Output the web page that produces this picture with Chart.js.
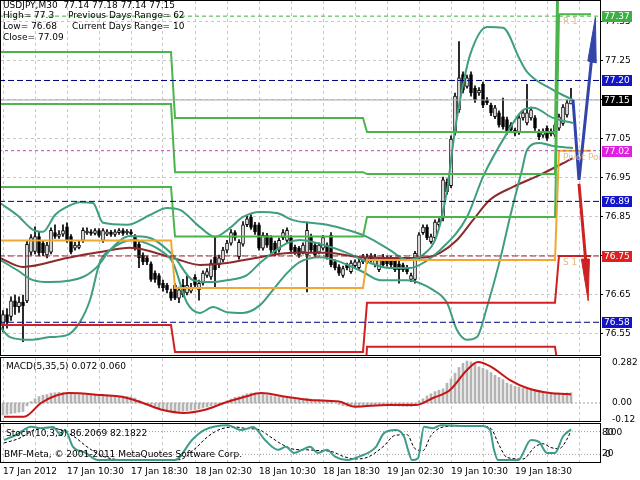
<!DOCTYPE html>
<html><head><meta charset="utf-8">
<script src="https://cdn.jsdelivr.net/npm/chart.js@4.4.0/dist/chart.umd.min.js"></script>
<style>
html,body{margin:0;padding:0;background:#fff;}
#wrap{position:relative;width:640px;height:480px;overflow:hidden;background:#fff}
canvas{position:absolute;left:0}
</style></head><body>
<div id="wrap">
<canvas id="main" width="640" height="356" style="top:0px"></canvas>
<canvas id="macd" width="640" height="67" style="top:356px"></canvas>
<canvas id="stoch" width="640" height="57" style="top:423px"></canvas>
</div>
<script>
// ---------- DATA ----------
const timeLabels = ['17 Jan 2012','17 Jan 10:30','17 Jan 18:30','18 Jan 02:30','18 Jan 10:30','18 Jan 18:30','19 Jan 02:30','19 Jan 10:30','19 Jan 18:30'];
const labelBars = [0,16,32,48,64,80,96,112,128];
const gridBars = [0,8,16,24,32,40,48,56,64,72,80,88,96,104,112,120,128,136,144];
const priceTicks = [76.55,76.65,76.75,76.85,76.95,77.05,77.15,77.25,77.35];

const opens = [
76.575,76.600,76.595,76.635,76.620,76.632,76.635,76.760,76.762,76.800,
76.783,76.753,76.760,76.810,76.800,76.806,76.825,76.800,76.770,76.772,
76.790,76.810,76.812,76.808,76.815,76.790,76.806,76.811,76.805,76.810,
76.815,76.810,76.812,76.800,76.780,76.752,76.745,76.730,76.706,76.700,
76.680,76.675,76.658,76.675,76.642,76.675,76.655,76.660,76.696,76.663,
76.680,76.700,76.696,76.748,76.728,76.740,76.765,76.783,76.810,76.748,
76.780,76.830,76.850,76.830,76.830,76.770,76.803,76.797,76.783,76.765,
76.797,76.790,76.797,76.772,76.770,76.760,76.753,76.800,76.778,76.760,
76.770,76.778,76.803,76.735,76.722,76.700,76.727,76.710,76.725,76.720,
76.735,76.735,76.750,76.727,76.715,76.748,76.745,76.745,76.740,76.730,
76.727,76.720,76.690,76.690,76.745,76.810,76.824,76.787,76.797,76.830,
76.847,76.940,76.930,77.065,77.125,77.215,77.185,77.215,77.180,77.168,
77.190,77.150,77.137,77.107,77.117,77.107,77.100,77.086,77.073,77.068,
77.104,77.091,77.104,77.104,77.068,77.060,77.078,77.063,77.060,77.078,
77.090,77.112,77.140];
const closes = [
76.600,76.580,76.635,76.620,76.632,76.622,76.780,76.797,76.800,76.758,
76.758,76.778,76.816,76.800,76.806,76.815,76.790,76.760,76.778,76.778,
76.816,76.813,76.808,76.815,76.803,76.815,76.812,76.805,76.812,76.815,
76.808,76.813,76.807,76.770,76.745,76.735,76.735,76.690,76.690,76.675,
76.668,76.663,76.642,76.642,76.663,76.650,76.675,76.670,76.675,76.680,
76.706,76.710,76.732,76.715,76.745,76.765,76.783,76.810,76.797,76.785,
76.830,76.845,76.823,76.812,76.770,76.803,76.778,76.765,76.758,76.790,
76.810,76.816,76.765,76.760,76.752,76.778,76.816,76.765,76.753,76.778,
76.797,76.748,76.727,76.720,76.706,76.718,76.720,76.732,76.735,76.735,
76.748,76.748,76.740,76.748,76.740,76.727,76.730,76.727,76.715,76.715,
76.715,76.710,76.700,76.757,76.804,76.824,76.797,76.800,76.837,76.838,
76.945,76.915,77.050,77.160,77.207,77.175,77.207,77.168,77.150,77.175,
77.137,77.143,77.117,77.130,77.086,77.081,77.068,77.073,77.065,77.104,
77.117,77.117,77.125,77.078,77.055,77.070,77.052,77.070,77.086,77.107,
77.132,77.143,77.150];
const highs = [
76.610,76.615,76.645,76.650,76.645,76.650,76.790,76.805,76.825,76.812,
76.790,76.785,76.822,76.830,76.815,76.830,76.835,76.805,76.785,76.790,
76.822,76.822,76.818,76.820,76.820,76.820,76.818,76.816,76.818,76.820,
76.820,76.818,76.818,76.805,76.785,76.758,76.750,76.735,76.712,76.705,
76.688,76.680,76.665,76.680,76.670,76.690,76.700,76.680,76.702,76.688,
76.712,76.718,76.740,76.800,76.752,76.772,76.790,76.818,76.815,76.792,
76.838,76.852,76.856,76.836,76.835,76.810,76.808,76.802,76.788,76.796,
76.818,76.822,76.802,76.778,76.775,76.784,76.837,76.806,76.783,76.784,
76.803,76.784,76.810,76.740,76.728,76.724,76.732,76.738,76.740,76.742,
76.754,76.755,76.756,76.754,76.746,76.754,76.750,76.750,76.745,76.736,
76.732,76.726,76.706,76.762,76.810,76.830,76.830,76.806,76.843,76.846,
76.952,76.948,77.058,77.168,77.300,77.222,77.214,77.222,77.186,77.182,
77.196,77.156,77.142,77.136,77.122,77.155,77.106,77.092,77.078,77.110,
77.124,77.190,77.132,77.110,77.074,77.076,77.084,77.076,77.092,77.114,
77.138,77.150,77.180];
const lows = [
76.555,76.565,76.585,76.600,76.605,76.530,76.630,76.752,76.755,76.750,
76.750,76.745,76.755,76.795,76.795,76.800,76.785,76.755,76.765,76.768,
76.785,76.805,76.803,76.804,76.798,76.785,76.802,76.800,76.800,76.805,
76.803,76.805,76.800,76.765,76.720,76.728,76.728,76.685,76.682,76.668,
76.660,76.655,76.636,76.638,76.630,76.645,76.650,76.655,76.668,76.637,
76.675,76.695,76.690,76.668,76.720,76.735,76.758,76.778,76.790,76.742,
76.775,76.825,76.818,76.805,76.765,76.765,76.772,76.758,76.750,76.760,
76.792,76.785,76.758,76.754,76.746,76.755,76.658,76.760,76.748,76.755,
76.765,76.742,76.722,76.714,76.700,76.695,76.714,76.705,76.720,76.715,
76.730,76.730,76.735,76.722,76.710,76.722,76.724,76.722,76.710,76.680,
76.710,76.704,76.684,76.680,76.740,76.805,76.792,76.782,76.790,76.825,
76.840,76.908,76.925,77.060,77.118,77.168,77.180,77.160,77.144,77.162,
77.130,77.138,77.110,77.102,77.080,77.075,77.062,77.066,77.058,77.062,
77.098,77.086,77.098,77.072,77.048,77.054,77.046,77.058,77.055,77.072,
77.085,77.106,77.140];

// moving average and Bollinger bands: [bar, price]
const maPoints = [[-0.75,76.745],[5,76.722],[16,76.745],[24.25,76.760],[31.75,76.771],[42.5,76.745],[49.25,76.727],[56,76.732],[64.25,76.747],[72.5,76.758],[81,76.758],[89.25,76.747],[101,76.745],[106,76.747],[109.25,76.758],[113.5,76.791],[117.5,76.842],[121.75,76.894],[127.5,76.927],[134.25,76.958],[142.5,77.001]];
const bbUpper = [[-0.75,76.886],[3.5,76.855],[7.5,76.817],[10,76.812],[13,76.855],[16,76.876],[19.25,76.888],[22.5,76.886],[25,76.835],[31,76.830],[36.75,76.855],[41,76.873],[44.25,76.868],[49.25,76.824],[53,76.799],[56.75,76.822],[60,76.850],[64.25,76.863],[68.5,76.860],[72.5,76.842],[76.75,76.835],[81,76.830],[86,76.817],[91,76.799],[96.75,76.765],[101,76.740],[105,76.753],[108.5,76.804],[111,76.919],[113,77.073],[114.75,77.176],[116.75,77.265],[121,77.337],[125,77.335],[129.25,77.253],[131,77.222],[137.5,77.176],[142.5,77.150]];
const bbMiddle = [[-0.75,76.740],[3.5,76.714],[7.5,76.688],[11.75,76.683],[20,76.696],[23.5,76.722],[26.75,76.765],[31.75,76.801],[36.75,76.796],[42.5,76.752],[47.5,76.688],[51.75,76.683],[56,76.688],[61,76.701],[64.25,76.732],[71,76.783],[74.25,76.791],[78.5,76.783],[82.5,76.771],[86,76.758],[91,76.735],[96.75,76.719],[101.75,76.719],[105.5,76.735],[109.25,76.765],[116,76.850],[120,76.953],[126,77.065],[130,77.124],[132.5,77.130],[137.5,77.104],[142.5,77.091]];
const bbLower = [[-0.75,76.568],[1.75,76.542],[6.75,76.535],[11.75,76.542],[16,76.547],[19.25,76.581],[21.75,76.637],[24.25,76.735],[26.75,76.765],[32.5,76.791],[35,76.786],[39.25,76.765],[42.5,76.732],[46,76.630],[49.25,76.604],[52.5,76.619],[56,76.606],[60,76.604],[64.25,76.624],[67.5,76.663],[71,76.706],[74.25,76.735],[79.25,76.747],[84.25,76.735],[90,76.709],[94.25,76.688],[101,76.688],[107.5,76.663],[111,76.630],[113.5,76.560],[116,76.535],[118.5,76.542],[121,76.619],[124.25,76.740],[126.75,76.850],[129.75,76.971],[131,77.022],[134.25,77.040],[137.5,77.032],[142.5,77.027]];

// daily pivot levels (4 days)
const dayStart = [-1, 43, 91, 139];
const dayEnd = [42, 90, 138, 147];
const pivotR3 = [77.273, 77.104, 77.068, 77.75];
const pivotR2 = [77.140, 76.965, 76.960, 77.56];
const pivotR1 = [76.927, 76.800, 76.850, 77.37];
const pivotPP = [76.790, 76.668, 76.740, 77.02];
const pivotS1 = [76.573, 76.504, 76.630, 76.75];
const pivotS2 = [76.400, 76.330, 76.517, 76.45];

// horizontal levels
const levelValues = [77.365, 77.20, 77.15, 77.02, 76.89, 76.75, 76.58];
const levelLabels = ['77.37','77.20','77.15','77.02','76.89','76.75','76.58'];

// forecast arrows
const forecastUp = [[142.5,77.15],[144,76.945],[147.6,77.30]];
const forecastUpHead = [[146.2,77.25],[148.1,77.362],[148.3,77.245],[146.2,77.25]];
const forecastDown = [[144,76.935],[146,76.70]];
const forecastDownHead = [[144.6,76.742],[146.3,76.635],[146.6,76.742],[144.6,76.742]];

// MACD
const macdHist = [
-0.085,-0.08,-0.075,-0.07,-0.065,-0.06,-0.02,0.01,0.03,0.045,
0.055,0.06,0.07,0.072,0.075,0.075,0.07,0.065,0.06,0.06,
0.062,0.063,0.062,0.06,0.058,0.058,0.056,0.055,0.052,0.05,
0.048,0.046,0.044,0.035,0.02,0.005,-0.01,-0.025,-0.035,-0.045,
-0.05,-0.055,-0.06,-0.062,-0.06,-0.058,-0.055,-0.05,-0.048,-0.042,
-0.035,-0.028,-0.02,-0.01,-0.005,0.005,0.015,0.028,0.04,0.045,
0.055,0.065,0.07,0.07,0.062,0.06,0.055,0.05,0.045,0.042,
0.04,0.04,0.035,0.03,0.028,0.028,0.03,0.028,0.025,0.025,
0.022,0.018,0.01,0.0,-0.01,-0.018,-0.022,-0.025,-0.025,-0.024,
-0.022,-0.02,-0.018,-0.016,-0.015,-0.015,-0.016,-0.018,-0.02,-0.022,
-0.024,-0.025,-0.025,-0.01,0.015,0.03,0.05,0.065,0.08,0.09,
0.1,0.14,0.17,0.21,0.25,0.28,0.296,0.29,0.272,0.255,
0.245,0.233,0.215,0.195,0.18,0.165,0.14,0.13,0.118,0.112,
0.105,0.1,0.094,0.09,0.085,0.08,0.074,0.07,0.07,0.07,
0.07,0.071,0.072];
const macdSignal = [[0.25,-0.097],[5.25,-0.097],[9.5,0],[12.5,0.044],[16.5,0.07],[24.75,0.056],[29.75,0.044],[35,0],[40,-0.05],[45.25,-0.07],[50.25,-0.05],[55.25,0],[60.5,0.044],[64.5,0.07],[70.75,0.044],[76.75,0.021],[84,0.01],[88,-0.026],[96.25,-0.014],[103.25,-0.014],[107.5,0.035],[111.75,0.092],[116,0.233],[118.75,0.289],[121.75,0.26],[126.75,0.162],[131,0.106],[136.75,0.07],[141,0.063],[142,0.06]];

// Stochastic
const stochMain = [[0.25,58],[3.25,71],[7,93],[9.5,89],[12.5,92],[14.5,71],[15.5,84],[17.5,40],[20.5,25],[23.75,5],[43,5],[47.25,58],[50.25,84],[56.25,97],[59.5,84],[62.5,92],[65.5,58],[68.75,32],[70.75,40],[72.75,24],[74.75,32],[76.75,40],[78.75,24],[81,32],[83,14],[86,5],[89,14],[93.25,40],[95.25,76],[98.25,84],[100.25,67],[101.25,32],[102.25,5],[103.75,10],[105.25,93],[107.5,89],[109.5,97],[114.5,95],[119.75,95],[121.75,84],[122.75,32],[123.75,5],[128.75,5],[132,58],[134,53],[136,24],[138,24],[140,67],[142,86.2]];
const stochSignal = [[0.25,50],[4,62],[8,85],[12,90],[15,82],[18,65],[21,40],[25,15],[30,6],[44,6],[48,35],[51,65],[54,85],[58,92],[61,88],[64,85],[67,65],[70,45],[73,33],[76,32],[79,30],[82,28],[85,15],[88,8],[91,12],[95,40],[98,70],[101,72],[103,35],[105,30],[107,70],[110,92],[115,95],[120,94],[122,88],[124,45],[126,12],[130,8],[133,40],[135,48],[137,38],[139,35],[141,60],[142,82.2]];

const infoLines = ['USDJPY,M30  77.14 77.18 77.14 77.15','High= 77.3','Low= 76.68','Close= 77.09'];
const infoRight = ['Previous Days Range= 62','Current Days Range= 10'];

// ---------- CONFIG ----------
const FONT = '"DejaVu Sans"';
Chart.defaults.font.family = FONT;
Chart.defaults.font.size = 9;
Chart.defaults.color = '#000';
Chart.defaults.elements.point.radius = 0;
Chart.defaults.animation = false;
Chart.defaults.events = [];
Chart.defaults.plugins.legend.display = false;
Chart.defaults.plugins.tooltip.enabled = false;

const X_MIN = -0.5, X_MAX = 149.25;
const GRID = '#c8c8c8';

function noPad(s){s.paddingTop=0;s.paddingBottom=0;s.paddingLeft=0;s.paddingRight=0;}
function xAxis(showLabels, height){
  return {
    type:'linear', min:X_MIN, max:X_MAX, offset:false,
    grid:{color:GRID, drawTicks:false, offset:false},
    border:{display:false, dash:[3,3]},
    ticks:{display:showLabels, autoSkip:false, maxRotation:0, align:'start', padding:4,
      callback:(v)=>{const k=labelBars.indexOf(v); return k>=0?timeLabels[k]:'';}},
    afterBuildTicks:(s)=>{s.ticks = gridBars.map(v=>({value:v}));},
    afterFit:(s)=>{s.height = height; noPad(s);}
  };
}
const pts = (arr)=>arr.map(p=>({x:p[0],y:p[1]}));
function stepPoints(vals){const o=[];vals.forEach((v,d)=>{o.push({x:dayStart[d],y:v});o.push({x:dayEnd[d],y:v});});return o;}
function lineDs(data,color,width,extra){return Object.assign({type:'line',data:data,borderColor:color,borderWidth:width,fill:false,pointRadius:0,order:1},extra||{});}
function hLevel(v,color,dash,width){return lineDs([{x:-1,y:v},{x:151,y:v}],color,width||1,{borderDash:dash||[],order:0.5});}

function frame(chart){
  const a=chart.chartArea, ctx=chart.ctx;
  ctx.save(); ctx.strokeStyle='#000'; ctx.lineWidth=1;
  ctx.strokeRect(a.left-0.5,a.top-0.5,a.right-a.left+1,a.bottom-a.top+1);
  ctx.restore();
}

// ---------- MAIN ----------
const green='#4cb44c', orange='#f0a830', red='#d42020', teal='#3f9e7e', maCol='#8c2a2a', navy='#000080';
const boxColors = ['#3cb043','#1414c8','#000000','#e020e0','#1414c8','#e02020','#1414c8'];
const pivotTags = [{t:'R 1', v:pivotR1[3]},{t:'Pivot Point', v:pivotPP[3]},{t:'S 1', v:pivotS1[3]}];

const mainPlugin = {
  id:'mainDecor',
  afterDraw(chart){
    const ctx=chart.ctx, a=chart.chartArea, ys=chart.scales.y, xs=chart.scales.x;
    frame(chart);
    ctx.save();
    ctx.beginPath(); ctx.rect(a.left,a.top,a.right-a.left,a.bottom-a.top); ctx.clip();
    ctx.font='9px '+FONT; ctx.textBaseline='middle'; ctx.fillStyle='#e2b98a';
    pivotTags.forEach(p=>ctx.fillText(p.t, xs.getPixelForValue(140), ys.getPixelForValue(p.v)+7));
    ctx.restore();
    ctx.save();
    ctx.font='9px '+FONT; ctx.textBaseline='middle'; ctx.fillStyle='#000';
    const lineY=[6,16,27,37.5];
    infoLines.forEach((t,i)=>ctx.fillText(t,3,lineY[i]));
    ctx.fillText(infoRight[0],68,lineY[1]);
    ctx.fillText(infoRight[1],72,lineY[2]);
    levelValues.forEach((v,i)=>{
      const y=Math.round(ys.getPixelForValue(v));
      ctx.fillStyle=boxColors[i]; ctx.fillRect(602,y-5,30,11);
      ctx.fillStyle='#fff'; ctx.fillText(levelLabels[i],604,y+0.5);
    });
    ctx.restore();
  }
};

new Chart(document.getElementById('main'),{
  type:'line',
  data:{datasets:[
    {type:'bar', data:closes.map((c,i)=>({x:i,y:[lows[i],highs[i]]})), backgroundColor:'#000', barThickness:1, grouped:false, order:20},
    {type:'bar', data:closes.map((c,i)=>({x:i,y:[opens[i],c]})), backgroundColor:closes.map((c,i)=>c>=opens[i]?'#fff':'#000'), borderColor:'#000', borderWidth:1, borderSkipped:false, barThickness:3, grouped:false, order:19},
    hLevel(levelValues[0],'#40b040',[4,3]),
    hLevel(levelValues[1],navy,[6,3]),
    hLevel(levelValues[2],'#a8a8a8',[]),
    hLevel(levelValues[3],'#c040c0',[3,3]),
    hLevel(levelValues[4],navy,[6,3]),
    hLevel(levelValues[5],'#a02030',[6,3]),
    hLevel(levelValues[6],navy,[6,3]),
    lineDs(stepPoints(pivotR3),green,2),
    lineDs(stepPoints(pivotR2),green,2),
    lineDs(stepPoints(pivotR1),green,2),
    lineDs(stepPoints(pivotPP),orange,2),
    lineDs(stepPoints(pivotS1),red,2),
    lineDs(stepPoints(pivotS2),red,2),
    lineDs(pts(bbUpper),teal,2,{cubicInterpolationMode:'monotone'}),
    lineDs(pts(bbMiddle),teal,2,{cubicInterpolationMode:'monotone'}),
    lineDs(pts(bbLower),teal,2,{cubicInterpolationMode:'monotone'}),
    lineDs(pts(maPoints),maCol,2,{cubicInterpolationMode:'monotone'}),
    lineDs(pts(forecastUp),'#3344aa',3,{order:0}),
    lineDs(pts(forecastUpHead),'#3344aa',1,{order:0,fill:'shape',backgroundColor:'#3344aa'}),
    lineDs(pts(forecastDown),'#cc2222',3,{order:0}),
    lineDs(pts(forecastDownHead),'#cc2222',1,{order:0,fill:'shape',backgroundColor:'#cc2222'})
  ]},
  options:{
    responsive:false, maintainAspectRatio:false,
    layout:{padding:{left:1,top:1,right:0,bottom:1}},
    scales:{
      x:xAxis(false,0),
      y:{type:'linear', position:'right', min:76.4961, max:77.4038, beginAtZero:false,
        grid:{color:GRID, tickColor:'#000', tickLength:3},
        border:{display:false, dash:[3,3]},
        ticks:{padding:2, callback:(v)=>Number(v).toFixed(2)},
        afterBuildTicks:(s)=>{s.ticks=priceTicks.map(v=>({value:v}));},
        afterFit:(s)=>{s.width=40; noPad(s);}}
    }
  },
  plugins:[mainPlugin]
});

// ---------- MACD ----------
new Chart(document.getElementById('macd'),{
  type:'line',
  data:{datasets:[
    hLevel(0,'#a0a0a0',[2,2]),
    {type:'bar', data:macdHist.map((v,i)=>({x:i,y:v})), backgroundColor:'#b4b4b4', barThickness:2, grouped:false, order:10},
    lineDs(pts(macdSignal),'#c81414',2,{cubicInterpolationMode:'monotone',order:0})
  ]},
  options:{
    responsive:false, maintainAspectRatio:false,
    layout:{padding:{left:1,top:2,right:0,bottom:2}},
    scales:{
      x:xAxis(false,0),
      y:{type:'linear', position:'right', min:-0.127, max:0.3173, beginAtZero:false,
        grid:{display:false}, border:{display:false},
        ticks:{padding:4, callback:(v)=> v===0?'0.00':String(v)},
        afterBuildTicks:(s)=>{s.ticks=[-0.12,0,0.282].map(v=>({value:v}));},
        afterFit:(s)=>{s.width=40; noPad(s);}}
    }
  },
  plugins:[{id:'macdDecor', afterDraw(chart){
    frame(chart);
    const ctx=chart.ctx; ctx.save(); ctx.font='9px '+FONT; ctx.fillStyle='#000'; ctx.textBaseline='middle';
    ctx.fillText('MACD(5,35,5) 0.072 0.060',6,11); ctx.restore();
  }}]
});

// ---------- STOCH ----------
new Chart(document.getElementById('stoch'),{
  type:'line',
  data:{datasets:[
    hLevel(80,'#a0a0a0',[1,2]),
    hLevel(20,'#a0a0a0',[1,2]),
    lineDs(pts(stochSignal),'#000',1,{borderDash:[3,2],cubicInterpolationMode:'monotone'}),
    lineDs(pts(stochMain),'#3c9c8c',2,{cubicInterpolationMode:'monotone',order:0})
  ]},
  options:{
    responsive:false, maintainAspectRatio:false,
    layout:{padding:{left:1,top:1,right:0,bottom:0}},
    scales:{
      x:xAxis(true,18),
      y:{type:'linear', position:'right', min:0, max:100,
        grid:{display:false}, border:{display:false}, ticks:{display:false},
        afterFit:(s)=>{s.width=40; noPad(s);}}
    }
  },
  plugins:[{id:'stochDecor', afterDraw(chart){
    frame(chart);
    const ctx=chart.ctx; ctx.save(); ctx.font='9px '+FONT; ctx.fillStyle='#000'; ctx.textBaseline='middle';
    ctx.fillText('Stoch(10,3,3) 86.2069 82.1822',6,11);
    ctx.fillText('BMF-Meta, \u00A9 2001-2011 MetaQuotes Software Corp.',4,32);
    ctx.fillText('80',602,10); ctx.fillText('100',605,10);
    ctx.fillText('20',602,31); ctx.fillText('0',605,32);
    ctx.restore();
  }}]
});
</script>
</body></html>
